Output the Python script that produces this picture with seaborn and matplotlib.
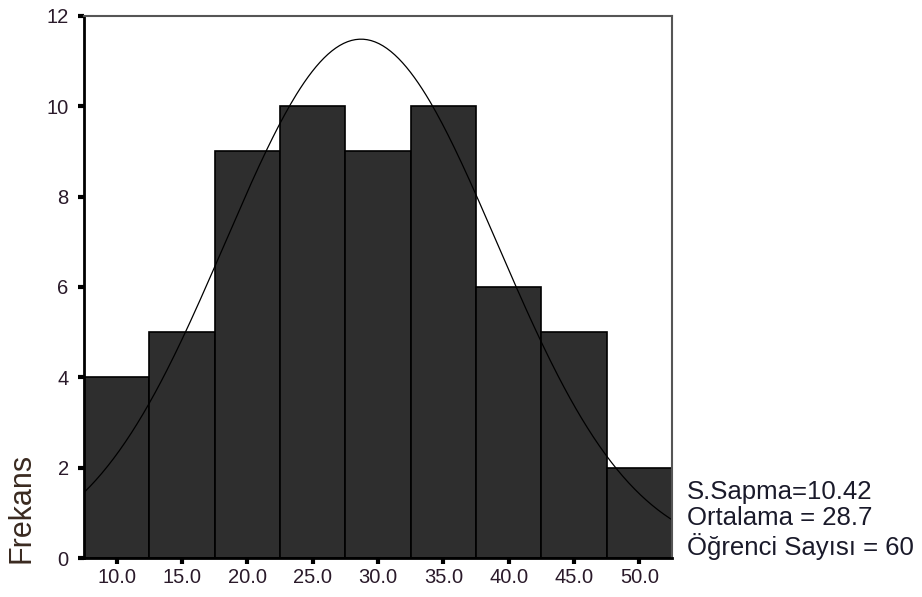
import numpy as np
import pandas as pd
import matplotlib
matplotlib.use("Agg")
import matplotlib.pyplot as plt
import seaborn as sns

# histogram data (bin centres and counts)
bin_centers = [10.0, 15.0, 20.0, 25.0, 30.0, 35.0, 40.0, 45.0, 50.0]
counts = [4, 5, 9, 10, 9, 10, 6, 5, 2]
bin_edges = [7.5, 12.5, 17.5, 22.5, 27.5, 32.5, 37.5, 42.5, 47.5, 52.5]
y_ticks = [0, 2, 4, 6, 8, 10, 12]

std_dev = 10.42
mean = 28.7
n_students = 60

sns.set_style("white")
plt.rcParams["font.family"] = ["Liberation Sans", "DejaVu Sans"]

fig = plt.figure(figsize=(9.22, 5.97), dpi=100)
ax = fig.add_axes([0.0911, 0.0653, 0.6378, 0.908])

df = pd.DataFrame({"value": bin_centers, "count": counts})
sns.histplot(data=df, x="value", weights="count", bins=bin_edges,
             color="#2e2e2e", edgecolor="black", linewidth=1.2, alpha=1.0, ax=ax)

# normal curve fitted from the stated mean / std / N
bw = bin_edges[1] - bin_edges[0]
xs = np.linspace(bin_edges[0], bin_edges[-1], 300)
ys = n_students * bw / (std_dev * np.sqrt(2 * np.pi)) * np.exp(-0.5 * ((xs - mean) / std_dev) ** 2)
sns.lineplot(x=xs, y=ys, color="black", linewidth=0.9, ax=ax)

ax.set_xlim(bin_edges[0], bin_edges[-1])
ax.set_ylim(0, 12)
ax.set_xticks(bin_centers)
ax.set_xticklabels([f"{c:.1f}" for c in bin_centers])
ax.set_yticks(y_ticks)
ax.set_xlabel("")
ax.set_ylabel("")

ax.tick_params(axis="both", which="major", direction="out", length=4, width=3,
               color="black", labelsize=14.5, labelcolor="#2a1a2a",
               bottom=True, left=True)
ax.tick_params(axis="x", pad=3)
ax.tick_params(axis="y", pad=7)

for side in ["left", "bottom"]:
    ax.spines[side].set_color("black")
    ax.spines[side].set_linewidth(2)
for side in ["top", "right"]:
    ax.spines[side].set_color("#555555")
    ax.spines[side].set_linewidth(1.5)

fig.text(22 / 922, (597 - 563) / 597, "Frekans", rotation=90, fontsize=22,
         color="#3a2a20", ha="center", va="bottom")

fig.text(687 / 922, (597 - 560) / 597,
         f"S.Sapma={std_dev:.2f}\nOrtalama = {mean:.1f}\nÖğrenci Sayısı = {n_students}",
         fontsize=18.5, color="#1a1a2a", ha="left", va="bottom", linespacing=1.12)

fig.savefig("out.png", dpi=100)
